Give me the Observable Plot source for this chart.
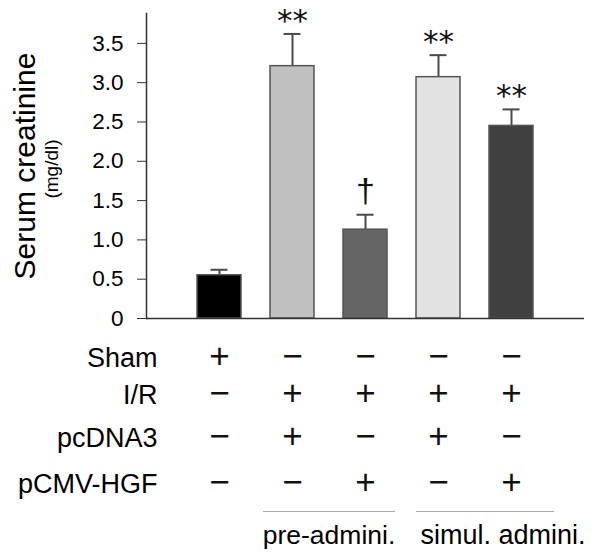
<!DOCTYPE html>
<html>
<head>
<meta charset="utf-8">
<script src="https://cdn.jsdelivr.net/npm/d3@7"></script>
<script src="https://cdn.jsdelivr.net/npm/@observablehq/plot@0.6"></script>
<style>
  html, body { margin: 0; padding: 0; background: #fff; }
  #chart { width: 600px; height: 555px; }
</style>
</head>
<body>
<div id="chart"></div>
<script>
// ---- data ----
const groups = ["Sham", "pre pcDNA3", "pre pCMV-HGF", "simul pcDNA3", "simul pCMV-HGF"];
const means = [0.55, 3.21, 1.13, 3.07, 2.45];
const sems = [0.07, 0.41, 0.19, 0.28, 0.21];
const signif = ["", "**", "\u2020", "**", "**"];
const yTicks = [0, 0.5, 1.0, 1.5, 2.0, 2.5, 3.0, 3.5];
const rowLabels = ["Sham", "I/R", "pcDNA3", "pCMV-HGF"];
const rowSigns = [
  ["+", "\u2212", "\u2212", "\u2212", "\u2212"],
  ["\u2212", "+", "+", "+", "+"],
  ["\u2212", "+", "\u2212", "+", "\u2212"],
  ["\u2212", "\u2212", "+", "\u2212", "+"]
];
const groupLabels = ["pre-admini.", "simul. admini."];
const groupSpans = [["pre pcDNA3", "pre pCMV-HGF"], ["simul pcDNA3", "simul pCMV-HGF"]];
const yLabel = "Serum creatinine";
const yUnit = "(mg/dl)";

// ---- styles ----
const barColors = ["#000000", "#c0c0c0", "#656565", "#e2e2e2", "#404040"];
const font = "'Liberation Sans', Arial, Helvetica, sans-serif";

const data = groups.map((g, i) => ({group: g, mean: means[i], sem: sems[i], sig: signif[i]}));

const rowDy = [40, 77, 120, 166];
const rowMarks = [];
rowLabels.forEach((lab, r) => {
  rowMarks.push(Plot.text([lab], {
    frameAnchor: "bottom-left", text: d => d, textAnchor: "end", lineAnchor: "middle",
    dx: 11, dy: rowDy[r], fontSize: 27, fill: "#000"
  }));
  rowMarks.push(Plot.text(groups.map((g, i) => ({group: g, s: rowSigns[r][i]})), {
    x: "group", frameAnchor: "bottom", text: "s", textAnchor: "middle", lineAnchor: "middle",
    dy: rowDy[r] - 2, fontSize: 35, fill: "#111"
  }));
});

const chart = Plot.plot({
  width: 600,
  height: 555,
  marginLeft: 146,
  marginRight: 16,
  marginTop: 13,
  marginBottom: 237,
  style: {fontFamily: font, background: "#fff", color: "#000"},
  x: {type: "band", domain: groups, paddingInner: 0.4, paddingOuter: 0.7, axis: null},
  y: {domain: [0, 3.88], axis: null},
  color: {type: "ordinal", domain: groups, range: barColors},
  marks: [
    Plot.frame({anchor: "left", stroke: "#333", strokeWidth: 1.5}),
    Plot.axisY({
      ticks: yTicks, tickSize: 9, tickPadding: 14, label: null,
      tickFormat: d => d === 0 ? "0" : d.toFixed(1),
      fontSize: 22.5, stroke: "#333", fill: "#000"
    }),
    Plot.ruleX(data, {x: "group", y1: "mean", y2: d => d.mean + d.sem, stroke: "#4a4a4a", strokeWidth: 2}),
    Plot.tickY(data, {x: "group", y: d => d.mean + d.sem, stroke: "#4a4a4a", strokeWidth: 2, insetLeft: 13.5, insetRight: 13.5}),
    Plot.barY(data, {x: "group", y: "mean", fill: "group", stroke: "#555", strokeWidth: 1.5}),
    Plot.ruleY([0], {stroke: "#333", strokeWidth: 1.5}),
    Plot.text(data.filter(d => d.sig === "**"), {
      x: "group", y: d => d.mean + d.sem, text: "sig", dy: -13, lineAnchor: "middle",
      fontSize: 31, fontFamily: "'DejaVu Sans', sans-serif", fill: "#111"
    }),
    Plot.text(data.filter(d => d.sig === "\u2020"), {
      x: "group", y: d => d.mean + d.sem, text: "sig", dy: -24, lineAnchor: "middle",
      fontSize: 34, fill: "#111"
    }),
    Plot.text([yLabel], {
      frameAnchor: "left", text: d => d, rotate: -90, textAnchor: "middle", lineAnchor: "middle",
      dx: -121, fontSize: 30, fill: "#000"
    }),
    Plot.text([yUnit], {
      frameAnchor: "left", text: d => d, rotate: -90, textAnchor: "middle", lineAnchor: "middle",
      dx: -95, dy: 3, fontSize: 19, fill: "#000"
    }),
    ...rowMarks,
    Plot.ruleY([groupSpans[0]], {x1: d => d[0], x2: d => d[1], y: () => 0, dy: 193, insetLeft: -7, insetRight: -8, stroke: "#aaa", strokeWidth: 1.2}),
    Plot.ruleY([groupSpans[1]], {x1: d => d[0], x2: d => d[1], y: () => 0, dy: 193, insetLeft: 0, insetRight: -21, stroke: "#aaa", strokeWidth: 1.2}),
    Plot.text([groupLabels[0]], {x: () => groupSpans[0][0], frameAnchor: "bottom", text: d => d, dx: 36.5, dy: 217, lineAnchor: "middle", fontSize: 26.5, fill: "#000"}),
    Plot.text([groupLabels[1]], {x: () => groupSpans[1][0], frameAnchor: "bottom", text: d => d, dx: 64.5, dy: 217, lineAnchor: "middle", fontSize: 27, fill: "#000"})
  ]
});
document.getElementById("chart").appendChild(chart);
</script>
</body>
</html>
